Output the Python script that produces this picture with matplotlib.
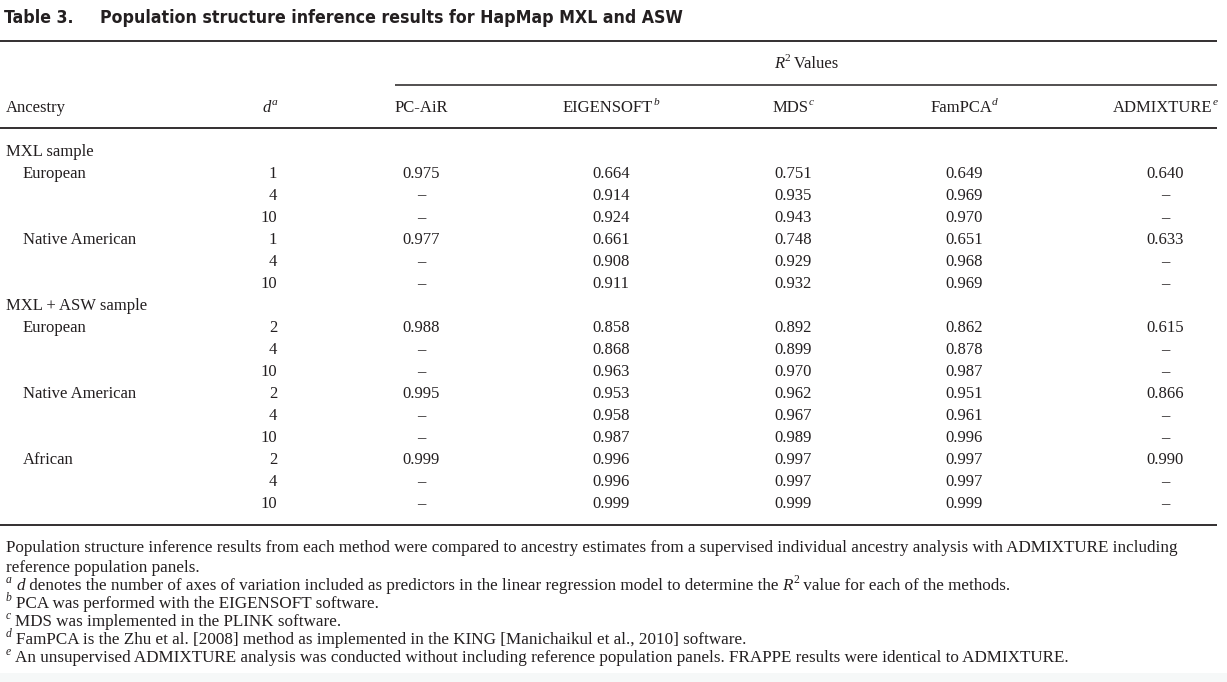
import matplotlib
matplotlib.use('Agg')
import matplotlib.pyplot as plt
from matplotlib import font_manager

# table contents
title_num = "Table 3."
title_text = "Population structure inference results for HapMap MXL and ASW"
methods = ["PC-AiR", "EIGENSOFT", "MDS", "FamPCA", "ADMIXTURE"]
method_marks = ["", "b", "c", "d", "e"]

samples = ["MXL sample", "MXL + ASW sample"]
ancestry_mxl = ["European", "Native American"]
ancestry_asw = ["European", "Native American", "African"]
d_mxl = [1, 4, 10]
d_asw = [2, 4, 10]

pcair = [0.975, None, None, 0.977, None, None,
         0.988, None, None, 0.995, None, None, 0.999, None, None]
eigensoft = [0.664, 0.914, 0.924, 0.661, 0.908, 0.911,
             0.858, 0.868, 0.963, 0.953, 0.958, 0.987, 0.996, 0.996, 0.999]
mds = [0.751, 0.935, 0.943, 0.748, 0.929, 0.932,
       0.892, 0.899, 0.970, 0.962, 0.967, 0.989, 0.997, 0.997, 0.999]
fampca = [0.649, 0.969, 0.970, 0.651, 0.968, 0.969,
          0.862, 0.878, 0.987, 0.951, 0.961, 0.996, 0.997, 0.997, 0.999]
admixture = [0.640, None, None, 0.633, None, None,
             0.615, None, None, 0.866, None, None, 0.990, None, None]

caption = [
    "Population structure inference results from each method were compared to ancestry estimates from a supervised individual ancestry analysis with ADMIXTURE including",
    "reference population panels.",
]
note_marks = ["a", "b", "c", "d", "e"]
notes = [
    [("d", "it"), (" denotes the number of axes of variation included as predictors in the linear regression model to determine the ", "rm"),
     ("R", "it"), ("2", "sup"), (" value for each of the methods.", "rm")],
    [("PCA was performed with the EIGENSOFT software.", "rm")],
    [("MDS was implemented in the PLINK software.", "rm")],
    [("FamPCA is the Zhu et al. [2008] method as implemented in the KING [Manichaikul et al., 2010] software.", "rm")],
    [("An unsupervised ADMIXTURE analysis was conducted without including reference population panels. FRAPPE results were identical to ADMIXTURE.", "rm")],
]

plt.rcParams['font.family'] = ['Liberation Serif', 'DejaVu Serif']

W, H = 1227, 682
fig = plt.figure(figsize=(W / 100, H / 100), dpi=100)
ax = fig.add_axes([0, 0, 1, 1])
ax.set_xlim(0, W)
ax.set_ylim(H, 0)
ax.axis('off')
renderer = fig.canvas.get_renderer()

fs = 12
nfs = 12.3
ink = '#231f20'
col_x = [421, 611, 793, 964, 1165]
d_x = 277


def text_width(s, **kw):
    t = ax.text(0, 0, s, **kw)
    w = t.get_window_extent(renderer).width
    t.remove()
    return w


def runs(x, y, parts, size, ha='left'):
    # parts: list of (string, kind) with kind rm / it / sup / supit
    styles = []
    for s, kind in parts:
        kw = dict(fontsize=size, color=ink, va='baseline', ha='left')
        dy = 0
        if kind in ('it', 'supit'):
            kw['fontstyle'] = 'italic'
        if kind in ('sup', 'supit'):
            kw['fontsize'] = size * 0.68
            dy = -size * 0.52
        styles.append((s, kw, dy))
    widths = [text_width(s, **kw) for s, kw, dy in styles]
    total = sum(widths)
    if ha == 'center':
        x = x - total / 2
    elif ha == 'right':
        x = x - total
    for (s, kw, dy), w in zip(styles, widths):
        ax.text(x, y + dy, s, **kw)
        x += w


# title: bold condensed sans
cond = font_manager.FontProperties(family='DejaVu Sans', stretch='condensed', weight='bold')
path = font_manager.findfont(cond)
title_kw = dict(fontweight='bold', color=ink, va='center', ha='left')
if 'Condensed' in path:
    title_kw['fontproperties'] = font_manager.FontProperties(fname=path, size=14)
else:
    narrow = font_manager.findfont(font_manager.FontProperties(family='Liberation Sans Narrow', weight='bold'))
    if 'Narrow' in narrow:
        title_kw['fontproperties'] = font_manager.FontProperties(fname=narrow, size=14)
    else:
        title_kw['family'] = 'Liberation Sans'
        title_kw['fontsize'] = 14
# fit title width to the reference span
w0 = text_width(title_text, **title_kw)
scale = 586 / w0
if 'fontproperties' in title_kw:
    title_kw['fontproperties'].set_size(title_kw['fontproperties'].get_size() * scale)
else:
    title_kw['fontsize'] *= scale
ax.text(4, 18, title_num, **title_kw)
ax.text(100, 18, title_text, **title_kw)

# rules
ax.hlines([41, 128, 525], 0, 1217, color=ink, lw=1.3)
ax.hlines(85, 395, 1217, color=ink, lw=1.1)
ax.axhspan(673, 682, color='#f6f8f8', lw=0)

base = 4.5  # centre-to-baseline offset in px
# header
runs(806, 63 + base, [("R", "it"), ("2", "sup"), (" Values", "rm")], fs, ha='center')
runs(6, 107 + base, [("Ancestry", "rm")], fs)
runs(270, 107 + base, [("d", "it"), ("a", "supit")], fs, ha='center')
for x, m, mk in zip(col_x, methods, method_marks):
    parts = [(m, "rm")]
    if mk:
        parts.append((mk, "supit"))
    runs(x, 107 + base, parts, fs, ha='center')

# body rows
row_y0, pitch = 151, 22.06
labels = []
ds = []
labels.append((6, samples[0])); ds.append(None)
for a in ancestry_mxl:
    for i, d in enumerate(d_mxl):
        labels.append((23, a if i == 0 else "")); ds.append(d)
labels.append((6, samples[1])); ds.append(None)
for a in ancestry_asw:
    for i, d in enumerate(d_asw):
        labels.append((23, a if i == 0 else "")); ds.append(d)

k = 0
for r, ((ix, lab), d) in enumerate(zip(labels, ds)):
    y = row_y0 + r * pitch + base
    if lab:
        ax.text(ix, y, lab, fontsize=fs, ha='left', va='baseline', color=ink)
    if d is None:
        continue
    ax.text(d_x, y, str(d), fontsize=fs, ha='right', va='baseline', color=ink)
    for x, series in zip(col_x, [pcair, eigensoft, mds, fampca, admixture]):
        v = series[k]
        s = "–" if v is None else f"{v:.3f}"
        ax.text(x, y, s, fontsize=fs, ha='center', va='baseline', color=ink)
    k += 1

# caption and footnotes
ax.text(6, 547 + base, caption[0], fontsize=nfs, ha='left', va='baseline', color=ink)
ax.text(6, 568 + base, caption[1], fontsize=nfs, ha='left', va='baseline', color=ink)
note_y = [585, 603, 621, 639, 657]
for y, mk, parts in zip(note_y, note_marks, notes):
    runs(6, y + base, [(mk, "supit"), (" ", "rm")] + parts, nfs)

fig.savefig('out.png', dpi=100, facecolor='white')
plt.close()
